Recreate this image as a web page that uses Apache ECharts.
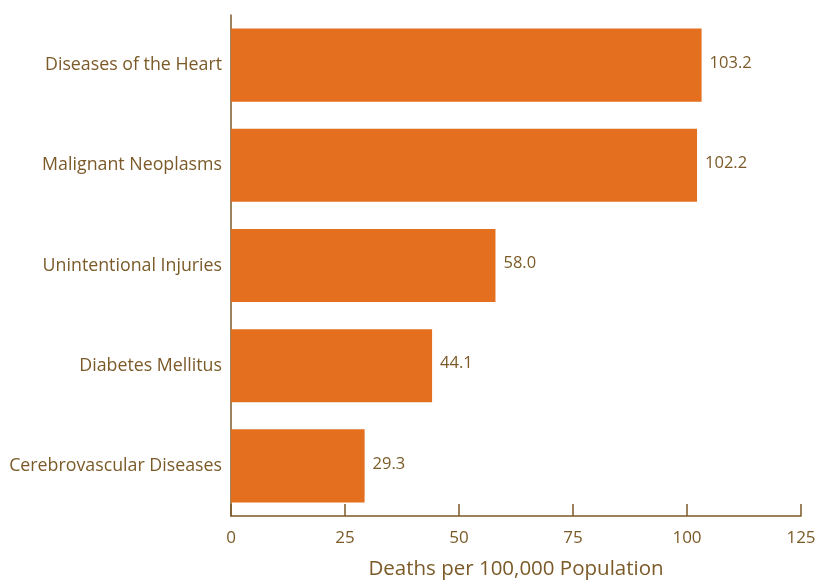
<!DOCTYPE html>
<html><head><meta charset="utf-8">
<script src="https://cdn.jsdelivr.net/npm/echarts@6/dist/echarts.min.js"></script>
<style>html,body{margin:0;padding:0;background:#fff}#c{width:820px;height:585px}</style>
</head><body><div id="c"></div>
<script>
const categories = ["Diseases of the Heart","Malignant Neoplasms","Unintentional Injuries","Diabetes Mellitus","Cerebrovascular Diseases"];
const values = [103.2, 102.2, 58.0, 44.1, 29.3];
const xTicks = [0, 25, 50, 75, 100, 125];
const textColor = '#7b5a28';
const font = 'Open Sans';
const chart = echarts.init(document.getElementById('c'));
chart.setOption({
  animation: false,
  grid: {left: 231, right: 19, top: 15, bottom: 60, containLabel: false},
  xAxis: {
    type: 'value', min: xTicks[0], max: xTicks[xTicks.length-1], interval: 25,
    name: 'Deaths per 100,000 Population', nameLocation: 'middle', nameGap: 43,
    nameTextStyle: {color: textColor, fontSize: 20.5, fontFamily: font},
    axisLine: {show: true, lineStyle: {color: textColor, width: 1.5}},
    axisTick: {show: true, inside: true, length: 12, lineStyle: {color: textColor, width: 1.5}},
    axisLabel: {color: textColor, fontSize: 17, fontFamily: font, margin: 14},
    splitLine: {show: false}
  },
  yAxis: {
    type: 'category', data: categories, inverse: true,
    axisLine: {show: true, lineStyle: {color: textColor, width: 1.5}},
    axisTick: {show: false},
    axisLabel: {color: textColor, fontSize: 17.8, fontFamily: font, margin: 9, padding: [4, 0, 0, 0]}
  },
  series: [{
    type: 'bar', data: values, barCategoryGap: '27%',
    itemStyle: {color: '#e36f1f'},
    label: {show: true, position: 'right', distance: 8, color: textColor, fontSize: 16.5, fontFamily: font, offset: [0, -2],
      formatter: p => p.value.toFixed(1)}
  }]
});
</script></body></html>
